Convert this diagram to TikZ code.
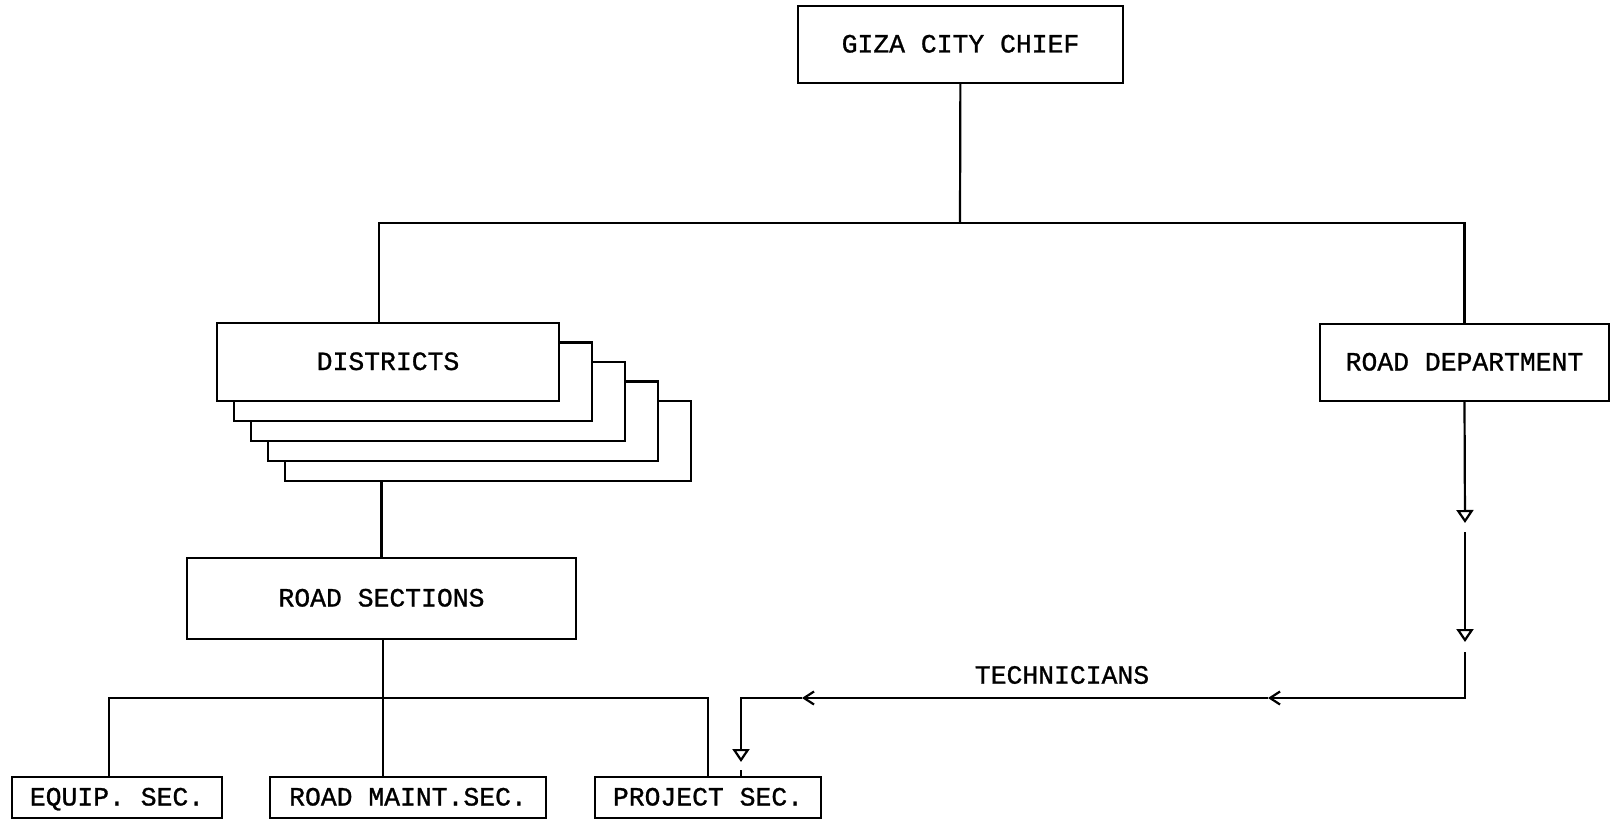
\documentclass[tikz,border=0pt]{standalone}
\usepackage{fontspec}
\setmonofont[FakeBold=1]{Liberation Mono}
\usetikzlibrary{arrows.meta}

\tikzset{
  box/.style = {draw, fill=white, inner sep=0pt, text height=8pt, text depth=0pt,
    font=\ttfamily\fontsize{13.2}{15}\selectfont},
  tri/.style = {-{Triangle[open, width=8.5pt, length=6.5pt]}},
  barb/.style = {-{Straight Barb[width=6.5pt, length=5pt]}}
}

\begin{document}
\begin{tikzpicture}[x=0.5pt, y=-0.5pt, line width=1.1pt]
    \useasboundingbox (0,0) rectangle (1613,819);

    % boxes
    \node[box, minimum width=162.5pt, minimum height=38.5pt] (chief) at (960.5,44.5) {GIZA CITY CHIEF};
    \foreach \i in {4,3,2,1} {
        \pgfmathsetmacro\lw{171+8*\i}
        \pgfmathsetmacro\lh{39+0.25*\i}
        \pgfmathsetmacro\lx{388+25*\i}
        \pgfmathsetmacro\ly{362+19.75*\i}
        \node[box, minimum width=\lw pt, minimum height=\lh pt] (layer\i) at (\lx,\ly) {};
    }
    \node[box, minimum width=171pt, minimum height=39pt] (districts) at (388,362) {DISTRICTS};
    \node[box, minimum width=194.5pt, minimum height=40.5pt] (roadsec) at (381.5,598.5) {ROAD SECTIONS};
    \node[box, minimum width=144.5pt, minimum height=38.5pt] (roaddept) at (1464.5,362.5) {ROAD DEPARTMENT};
    \node[box, minimum width=105pt, minimum height=20.5pt] (equip) at (117,797.5) {EQUIP. SEC.};
    \node[box, minimum width=138pt, minimum height=20.5pt] (maint) at (408,797.5) {ROAD MAINT.SEC.};
    \node[box, minimum width=113pt, minimum height=20.5pt] (project) at (708,797.5) {PROJECT SEC.};
    \node[font=\ttfamily\fontsize{13.2}{15}\selectfont] (tech) at (1062,675) {TECHNICIANS};

    % tree lines
    \coordinate (bus) at (960,223);
    \draw (chief) -- (bus);
    \draw ([xshift=-4.5pt]districts.north) |- (bus) -| (roaddept.north);
    \draw (roadsec.north) -- (roadsec.north |- layer4.south);
    \coordinate (sbus) at (383,698);
    \draw (roadsec.south -| sbus) -- (sbus |- maint.north);
    \draw ([xshift=-4pt]equip.north) |- (sbus) -| (project.north);

    % technicians
    \coordinate (t1) at (1465,523);
    \coordinate (t2) at (1465,532);
    \coordinate (t3) at (1465,642);
    \coordinate (t4) at (1465,652);
    \coordinate (tc) at (1465,698);
    \coordinate (h1) at (1268,698);
    \coordinate (h2) at (802,698);
    \coordinate (pc) at (741,698);
    \coordinate (v1) at (741,762);
    \coordinate (v2) at (741,770);
    \draw[tri] (roaddept.south) -- (t1);
    \draw[tri] (t2) -- (t3);
    \draw[barb] (t4) -- (tc) -- (h1);
    \draw[barb] (h1) -- (h2);
    \draw[tri] (h2) -- (pc) -- (v1);
    \draw (v2) -- (v2 |- project.north);
\end{tikzpicture}
\end{document}
